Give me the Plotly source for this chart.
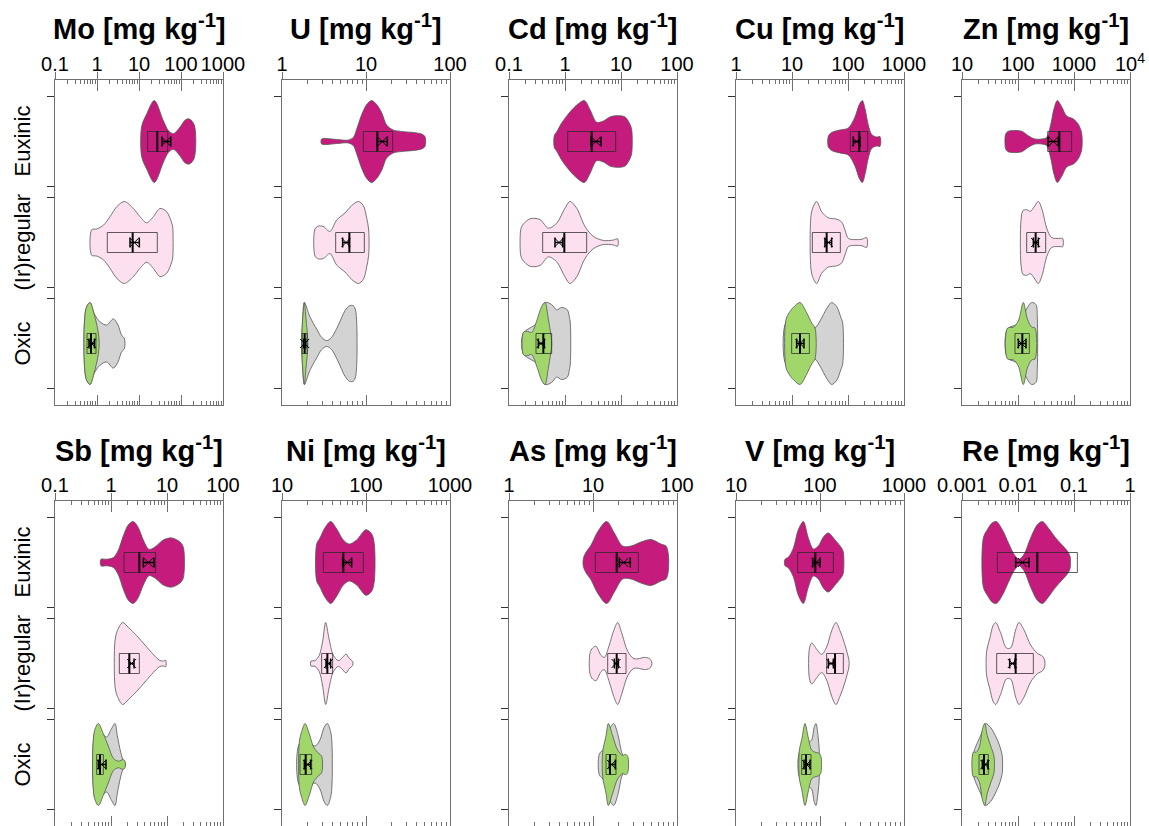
import numpy as np
import plotly.graph_objects as go

FIG_W, FIG_H = 1149, 826
FONT = "Liberation Sans, Arial, sans-serif"

CATEGORIES = ["Euxinic", "(Ir)regular", "Oxic"]
COL_EUX = "#c51b7d"
COL_IRR = "#fde0ef"
COL_OXG = "#a1d76a"
COL_OXA = "#d3d3d3"
OUTLINE = "#555555"
FRAME = "#707070"

# ---------------------------------------------------------------------------
# Violin outlines: log10 concentration (mg/kg) and relative half-width (0-1).
# Stats: box = (Q1, median, Q3), mean = (mean, lower SE, upper SE), all log10.
# ---------------------------------------------------------------------------

# Mo
mo_eux = ([1.064, 1.183, 1.365, 1.579, 1.698, 1.817, 1.976, 2.095, 2.198, 2.317],
          [0.37, 0.67, 1.0, 0.51, 0.27, 0.19, 0.35, 0.52, 0.55, 0.40])
mo_irr = ([-0.127, -0.008, 0.151, 0.310, 0.468, 0.651, 0.865, 1.024, 1.183, 1.341, 1.5, 1.659, 1.778, 1.802],
          [0.31, 0.33, 0.42, 0.63, 0.87, 1.0, 0.83, 0.63, 0.48, 0.63, 0.83, 0.75, 0.48, 0.38])
mo_oxa = ([-0.262, -0.167, -0.064, 0.071, 0.23, 0.389, 0.50, 0.587, 0.651],
          [0.85, 1.0, 0.72, 0.53, 0.45, 0.6, 0.45, 0.2, 0.13])
mo_oxg = ([-0.262, -0.167, -0.064, 0.016, 0.048],
          [0.85, 1.0, 0.7, 0.35, 0.12])
mo_box = [(1.207, 1.436, 1.683), (0.245, 0.849, 1.436), (-0.238, -0.143, -0.024)]
mo_mean = [(1.643, 1.548, 1.755), (0.888, 0.786, 1.008), (-0.127, -0.19, -0.06)]

# U
u_eux = ([0.472, 0.651, 0.790, 0.849, 0.889, 0.948, 1.008, 1.067, 1.127, 1.187, 1.246, 1.325, 1.444, 1.563, 1.663, 1.702],
         [0.06, 0.05, 0.035, 0.1, 0.3, 0.65, 0.9, 1.0, 0.9, 0.7, 0.4, 0.28, 0.24, 0.22, 0.18, 0.12])
u_irr = ([0.393, 0.432, 0.492, 0.571, 0.651, 0.75, 0.829, 0.909, 0.968, 1.008, 1.032],
         [0.33, 0.4, 0.39, 0.27, 0.55, 0.72, 0.9, 1.0, 0.9, 0.6, 0.3])
u_oxa = ([0.234, 0.246, 0.266, 0.333, 0.413, 0.472, 0.532, 0.591, 0.671, 0.75, 0.802, 0.849, 0.877],
         [0.05, 0.6, 1.0, 0.65, 0.35, 0.15, 0.07, 0.15, 0.45, 0.8, 0.92, 0.92, 0.8])
u_oxg = ([0.234, 0.246, 0.266, 0.286, 0.306],
         [0.05, 0.6, 1.0, 0.6, 0.12])
u_box = [(0.968, 1.135, 1.317), (0.639, 0.802, 0.980), (0.240, 0.270, 0.300)]
u_mean = [(1.194, 1.135, 1.254), (0.762, 0.722, 0.802), (0.270, 0.258, 0.282)]

# Cd
cd_eux = ([-0.190, -0.149, -0.060, 0.089, 0.220, 0.345, 0.446, 0.565, 0.685, 0.804, 0.923, 1.071, 1.149, 1.190],
          [0.15, 0.23, 0.45, 0.72, 0.9, 1.0, 0.78, 0.47, 0.5, 0.6, 0.63, 0.6, 0.45, 0.3])
cd_irr = ([-0.792, -0.76, -0.625, -0.446, -0.298, -0.149, 0.0, 0.089, 0.208, 0.357, 0.506, 0.685, 0.863, 0.940],
          [0.3, 0.42, 0.58, 0.56, 0.35, 0.47, 0.84, 1.0, 0.84, 0.39, 0.15, 0.05, 0.06, 0.09])
cd_oxa = ([-0.744, -0.5, -0.357, -0.238, -0.149, -0.060, 0.042, 0.077, 0.095],
          [0.25, 0.5, 1.0, 0.95, 0.82, 0.88, 0.82, 0.65, 0.5])
cd_oxg = ([-0.744, -0.685, -0.595, -0.506, -0.417, -0.357, -0.298, -0.256, -0.238],
          [0.27, 0.3, 0.27, 0.55, 0.9, 1.0, 0.6, 0.25, 0.05])
cd_box = [(0.048, 0.476, 0.905), (-0.399, -0.012, 0.387), (-0.518, -0.387, -0.238)]
cd_mean = [(0.554, 0.464, 0.643), (-0.107, -0.179, -0.042), (-0.429, -0.476, -0.369)]

# Cu
cu_eux = ([1.649, 1.708, 1.857, 2.006, 2.125, 2.202, 2.256, 2.304, 2.363, 2.423, 2.512, 2.571],
          [0.13, 0.22, 0.28, 0.33, 0.6, 0.9, 1.0, 0.8, 0.4, 0.17, 0.11, 0.12])
cu_irr = ([1.339, 1.381, 1.440, 1.530, 1.649, 1.798, 1.887, 1.947, 2.006, 2.125, 2.25, 2.333],
          [0.65, 0.88, 1.0, 0.75, 0.6, 0.57, 0.5, 0.3, 0.1, 0.07, 0.08, 0.12])
cu_oxa = ([0.887, 1.024, 1.202, 1.321, 1.411, 1.5, 1.619, 1.708, 1.798, 1.869, 1.905],
          [0.5, 0.6, 0.55, 0.45, 0.38, 0.55, 0.85, 1.0, 0.9, 0.65, 0.5])
cu_oxg = ([0.887, 0.935, 1.024, 1.143, 1.262, 1.351, 1.411],
          [0.55, 0.72, 0.88, 1.0, 0.75, 0.5, 0.38])
cu_box = [(2.042, 2.202, 2.351), (1.363, 1.619, 1.863), (0.994, 1.143, 1.310)]
cu_mean = [(2.155, 2.095, 2.214), (1.649, 1.589, 1.708), (1.143, 1.083, 1.214)]

# Zn
zn_eux = ([1.780, 1.827, 1.946, 2.065, 2.185, 2.304, 2.423, 2.512, 2.583, 2.643, 2.702, 2.780, 2.869, 2.988, 3.077, 3.137],
          [0.18, 0.25, 0.27, 0.25, 0.14, 0.06, 0.06, 0.1, 0.4, 0.8, 1.0, 0.85, 0.62, 0.55, 0.42, 0.2])
zn_irr = ([2.054, 2.09, 2.155, 2.22, 2.28, 2.363, 2.435, 2.512, 2.601, 2.75, 2.798],
          [0.55, 0.78, 0.8, 0.76, 0.85, 1.0, 0.78, 0.35, 0.12, 0.1, 0.1])
zn_oxa = ([1.810, 2.036, 2.155, 2.244, 2.321, 2.345],
          [0.35, 0.5, 0.85, 1.0, 0.95, 0.6])
zn_oxg = ([1.810, 1.917, 2.006, 2.095, 2.167, 2.244, 2.304],
          [0.37, 0.4, 0.55, 1.0, 0.6, 0.4, 0.38])
zn_box = [(2.530, 2.738, 2.958), (2.155, 2.315, 2.494), (1.946, 2.077, 2.202)]
zn_mean = [(2.631, 2.542, 2.720), (2.315, 2.274, 2.363), (2.065, 2.006, 2.143)]

# Sb
sb_eux = ([-0.179, -0.077, 0.042, 0.131, 0.220, 0.310, 0.399, 0.488, 0.577, 0.679, 0.786, 0.935, 1.083, 1.232, 1.292],
          [0.08, 0.08, 0.12, 0.3, 0.65, 0.92, 1.0, 0.85, 0.55, 0.32, 0.38, 0.55, 0.6, 0.5, 0.37])
sb_irr = ([0.071, 0.113, 0.208, 0.310, 0.458, 0.607, 0.756, 0.863, 0.935, 0.976],
          [0.55, 0.8, 1.0, 0.88, 0.68, 0.45, 0.22, 0.08, 0.06, 0.08])
sb_oxa = ([-0.298, -0.226, -0.149, -0.077, 0.0, 0.071, 0.113, 0.173, 0.220, 0.250],
          [0.75, 0.95, 0.75, 0.67, 0.85, 1.0, 0.7, 0.3, 0.09, 0.04])
sb_oxg = ([-0.298, -0.226, -0.137, -0.048, 0.042, 0.131, 0.220, 0.250],
          [0.8, 1.0, 0.75, 0.45, 0.15, 0.08, 0.12, 0.08])
sb_box = [(0.232, 0.506, 0.798), (0.149, 0.327, 0.506), (-0.256, -0.196, -0.137)]
sb_mean = [(0.667, 0.577, 0.768), (0.369, 0.327, 0.411), (-0.167, -0.226, -0.089)]

# Ni
ni_eux = ([1.413, 1.452, 1.512, 1.579, 1.651, 1.730, 1.802, 1.889, 2.0, 2.067, 2.099],
          [0.45, 0.6, 0.85, 1.0, 0.82, 0.55, 0.45, 0.55, 0.8, 0.7, 0.45])
ni_irr = ([1.345, 1.393, 1.444, 1.484, 1.520, 1.560, 1.611, 1.671, 1.722, 1.762, 1.802, 1.841],
          [0.06, 0.07, 0.2, 0.55, 1.0, 0.6, 0.2, 0.07, 0.15, 0.23, 0.12, 0.05])
ni_oxa = ([1.206, 1.294, 1.393, 1.452, 1.500, 1.540, 1.579, 1.595],
          [0.5, 0.55, 0.45, 0.6, 0.9, 1.0, 0.8, 0.5])
ni_oxg = ([1.206, 1.234, 1.274, 1.325, 1.381, 1.433, 1.472],
          [0.55, 0.8, 1.0, 0.75, 0.4, 0.28, 0.2])
ni_box = [(1.492, 1.730, 1.968), (1.472, 1.540, 1.603), (1.214, 1.282, 1.353)]
ni_mean = [(1.778, 1.722, 1.829), (1.552, 1.524, 1.579), (1.306, 1.266, 1.341)]

# As
as_eux = ([0.885, 0.917, 0.976, 1.056, 1.163, 1.254, 1.353, 1.452, 1.571, 1.690, 1.810, 1.869, 1.897],
          [0.1, 0.25, 0.42, 0.75, 1.0, 0.72, 0.4, 0.4, 0.5, 0.56, 0.45, 0.4, 0.2])
as_irr = ([0.964, 0.996, 1.036, 1.095, 1.135, 1.194, 1.246, 1.294, 1.341, 1.413, 1.484, 1.552, 1.611, 1.671, 1.698],
          [0.25, 0.38, 0.42, 0.2, 0.15, 0.45, 0.8, 1.0, 0.75, 0.3, 0.12, 0.12, 0.15, 0.12, 0.05])
as_oxa = ([1.075, 1.135, 1.194, 1.246, 1.294, 1.341, 1.373, 1.393],
          [0.25, 0.4, 0.85, 1.0, 0.75, 0.3, 0.15, 0.05])
as_oxg = ([1.115, 1.155, 1.183, 1.234, 1.294, 1.353, 1.385, 1.413],
          [0.3, 0.7, 1.0, 0.7, 0.35, 0.22, 0.25, 0.2])
as_box = [(1.028, 1.282, 1.540), (1.175, 1.282, 1.393), (1.155, 1.202, 1.274)]
as_mean = [(1.365, 1.313, 1.444), (1.274, 1.254, 1.302), (1.222, 1.194, 1.266)]

# V
v_eux = ([1.583, 1.623, 1.683, 1.742, 1.802, 1.861, 1.921, 1.980, 2.040, 2.099, 2.179, 2.258, 2.278],
         [0.08, 0.13, 0.35, 0.8, 1.0, 0.6, 0.33, 0.4, 0.62, 0.72, 0.55, 0.35, 0.25])
v_irr = ([1.873, 1.901, 1.960, 2.020, 2.079, 2.139, 2.190, 2.238, 2.298, 2.325, 2.345],
         [0.35, 0.5, 0.35, 0.22, 0.4, 0.8, 1.0, 0.8, 0.45, 0.25, 0.08])
v_oxa = ([1.754, 1.841, 1.901, 1.929, 1.952, 1.976, 1.992],
         [0.3, 0.5, 0.6, 0.9, 1.0, 0.7, 0.3])
v_oxg = ([1.754, 1.782, 1.821, 1.861, 1.901, 1.940, 1.980, 2.008],
         [0.35, 0.6, 1.0, 0.65, 0.35, 0.3, 0.28, 0.22])
v_box = [(1.734, 1.944, 2.159), (2.079, 2.179, 2.278), (1.782, 1.833, 1.893)]
v_mean = [(1.952, 1.913, 2.0), (2.131, 2.099, 2.159), (1.841, 1.810, 1.881)]

# Re
re_eux = ([-2.619, -2.548, -2.458, -2.387, -2.280, -2.161, -2.071, -1.982, -1.893, -1.774, -1.655, -1.565, -1.446, -1.327, -1.208, -1.119, -1.071],
          [0.6, 0.8, 0.97, 1.0, 0.8, 0.45, 0.2, 0.08, 0.2, 0.6, 0.92, 1.0, 0.82, 0.6, 0.42, 0.28, 0.15])
re_irr = ([-2.560, -2.506, -2.446, -2.399, -2.310, -2.208, -2.131, -2.042, -1.982, -1.893, -1.774, -1.655, -1.565, -1.524],
          [0.3, 0.6, 0.92, 1.0, 0.75, 0.38, 0.38, 0.82, 1.0, 0.82, 0.45, 0.25, 0.18, 0.08])
re_oxa = ([-2.798, -2.637, -2.577, -2.488, -2.411, -2.339, -2.304, -2.280],
          [0.25, 0.8, 1.0, 0.9, 0.72, 0.5, 0.35, 0.2])
re_oxg = ([-2.798, -2.744, -2.685, -2.637, -2.595, -2.548, -2.488, -2.429],
          [0.3, 0.3, 0.45, 0.85, 1.0, 0.7, 0.45, 0.2])
re_box = [(-2.369, -1.655, -0.940), (-2.381, -2.042, -1.726), (-2.696, -2.607, -2.530)]
re_mean = [(-1.923, -2.042, -1.804), (-2.101, -2.149, -2.054), (-2.589, -2.637, -2.536)]

# Axis ranges (log10 decades) and tick labels
PANELS = [
    dict(name="Mo", rng=(-1, 3), labels=["0.1", "1", "10", "100", "1000"],
         v=(mo_eux, mo_irr, mo_oxa, mo_oxg), box=mo_box, mean=mo_mean),
    dict(name="U", rng=(0, 2), labels=["1", "10", "100"],
         v=(u_eux, u_irr, u_oxa, u_oxg), box=u_box, mean=u_mean),
    dict(name="Cd", rng=(-1, 2), labels=["0.1", "1", "10", "100"],
         v=(cd_eux, cd_irr, cd_oxa, cd_oxg), box=cd_box, mean=cd_mean),
    dict(name="Cu", rng=(0, 3), labels=["1", "10", "100", "1000"],
         v=(cu_eux, cu_irr, cu_oxa, cu_oxg), box=cu_box, mean=cu_mean),
    dict(name="Zn", rng=(1, 4), labels=["10", "100", "1000", "10<sup>4</sup>"],
         v=(zn_eux, zn_irr, zn_oxa, zn_oxg), box=zn_box, mean=zn_mean),
    dict(name="Sb", rng=(-1, 2), labels=["0.1", "1", "10", "100"],
         v=(sb_eux, sb_irr, sb_oxa, sb_oxg), box=sb_box, mean=sb_mean),
    dict(name="Ni", rng=(1, 3), labels=["10", "100", "1000"],
         v=(ni_eux, ni_irr, ni_oxa, ni_oxg), box=ni_box, mean=ni_mean),
    dict(name="As", rng=(0, 2), labels=["1", "10", "100"],
         v=(as_eux, as_irr, as_oxa, as_oxg), box=as_box, mean=as_mean),
    dict(name="V", rng=(1, 3), labels=["10", "100", "1000"],
         v=(v_eux, v_irr, v_oxa, v_oxg), box=v_box, mean=v_mean),
    dict(name="Re", rng=(-3, 0), labels=["0.001", "0.01", "0.1", "1"],
         v=(re_eux, re_irr, re_oxa, re_oxg), box=re_box, mean=re_mean),
]

# Panel placement in pixels
COL_LEFT = [55, 282, 509, 736, 962]
PANEL_W = 168
ROW_TOP = [80, 501]
PANEL_H = 325
TITLE_Y = [27, 449]

# Category layout along the y axis (Euxinic on top)
Y_RANGE = [2.609, -0.609]
SEG_HALF = 0.4455
VIOLIN_HALF = 0.406
BOX_HALF = 0.099

fig = go.Figure()
layout = dict(
    width=FIG_W, height=FIG_H, margin=dict(l=0, r=0, t=0, b=0, autoexpand=False),
    paper_bgcolor="white", plot_bgcolor="white", showlegend=False,
    font=dict(family=FONT, color="black"),
)
annotations = []


def add_violin(xs, ws, yc, color, xref, yref):
    xv = np.power(10.0, np.asarray(xs, dtype=float))
    hw = np.asarray(ws, dtype=float) * VIOLIN_HALF
    px = list(xv) + list(xv[::-1]) + [xv[0]]
    py = list(yc - hw) + list((yc + hw)[::-1]) + [yc - hw[0]]
    fig.add_trace(go.Scatter(
        x=px, y=py, mode="lines", fill="toself", fillcolor=color,
        line=dict(color=OUTLINE, width=0.8, shape="spline", smoothing=0.9),
        xaxis=xref, yaxis=yref, hoverinfo="skip"))


def add_stats(box, mean, yc, xref, yref):
    q1, med, q3 = [10 ** v for v in box]
    fig.add_trace(go.Scatter(
        x=[q1, q3, q3, q1, q1],
        y=[yc - BOX_HALF, yc - BOX_HALF, yc + BOX_HALF, yc + BOX_HALF, yc - BOX_HALF],
        mode="lines", line=dict(color="rgba(40,40,40,0.75)", width=1),
        xaxis=xref, yaxis=yref, hoverinfo="skip"))
    fig.add_trace(go.Scatter(
        x=[med, med], y=[yc - BOX_HALF, yc + BOX_HALF], mode="lines",
        line=dict(color="black", width=2), xaxis=xref, yaxis=yref, hoverinfo="skip"))
    m, lo, hi = [10 ** v for v in mean]
    fig.add_trace(go.Scatter(
        x=[m], y=[yc], mode="markers",
        marker=dict(symbol="x-thin", size=9, line=dict(color="black", width=1)),
        error_x=dict(type="data", symmetric=False, array=[hi - m], arrayminus=[m - lo],
                     color="black", thickness=1.5, width=5),
        xaxis=xref, yaxis=yref, hoverinfo="skip"))


for i, p in enumerate(PANELS):
    row, col = divmod(i, 5)
    n = i + 1
    sfx = "" if n == 1 else str(n)
    xref, yref = "x" + sfx, "y" + sfx
    top_in, top_out = n + 10, n + 20

    left = COL_LEFT[col]
    top = ROW_TOP[row]
    xdom = [left / FIG_W, (left + PANEL_W) / FIG_W]
    ydom = [1 - (top + PANEL_H) / FIG_H, 1 - top / FIG_H]

    lo, hi = p["rng"]
    majors = [10.0 ** k for k in range(lo, hi + 1)]
    minors = [d * 10.0 ** k for k in range(lo, hi) for d in range(2, 10)]

    base = dict(
        type="log", range=[lo, hi], anchor=yref, tickmode="array", tickvals=majors,
        tickwidth=1, tickcolor=FRAME, showgrid=False, zeroline=False, automargin=False,
    )
    minor_in = dict(tickmode="array", tickvals=minors, ticks="inside", ticklen=4,
                    tickwidth=1, tickcolor=FRAME, showgrid=False)
    # bottom: frame line with inside decade and minor ticks
    layout["xaxis" + sfx] = dict(
        base, domain=xdom, side="bottom", minor=minor_in,
        showline=True, linecolor=FRAME, linewidth=1.2, mirror=True,
        ticks="inside", ticklen=10, showticklabels=False,
    )
    # top: inside decade and minor ticks with the decade labels
    layout["xaxis%d" % top_in] = dict(
        base, overlaying=xref, side="top", domain=xdom, minor=minor_in,
        showline=False, ticks="inside", ticklen=11,
        ticktext=p["labels"], tickangle=0, showticklabels=True, ticklabelstandoff=4,
        tickfont=dict(size=20, family=FONT, color="black"),
    )
    # top: short outside stubs at the decades
    layout["xaxis%d" % top_out] = dict(
        base, overlaying=xref, side="top", domain=xdom,
        showline=False, ticks="outside", ticklen=7, showticklabels=False,
    )
    seg_ticks = [c + s * SEG_HALF for c in range(3) for s in (-1, 1)]
    layout["yaxis" + sfx] = dict(
        domain=ydom, anchor=xref, range=Y_RANGE, automargin=False,
        showline=True, linecolor=FRAME, linewidth=1.2, mirror=True,
        ticks="outside", ticklen=7, tickwidth=1, tickcolor="#333333",
        tickmode="array", tickvals=seg_ticks, showticklabels=False,
        showgrid=False, zeroline=False,
    )

    eux, irr, oxa, oxg = p["v"]
    add_violin(*eux, 0, COL_EUX, xref, yref)
    add_violin(*irr, 1, COL_IRR, xref, yref)
    add_violin(*oxa, 2, COL_OXA, xref, yref)
    add_violin(*oxg, 2, COL_OXG, xref, yref)
    for c in range(3):
        add_stats(p["box"][c], p["mean"][c], c, xref, yref)

    # invisible points register the top axes on this subplot
    for tid in (top_in, top_out):
        fig.add_trace(go.Scatter(
            x=[majors[0]], y=[1], mode="markers", marker=dict(opacity=0),
            xaxis="x%d" % tid, yaxis=yref, hoverinfo="skip"))

    annotations.append(dict(
        text="<b>%s [mg kg<sup>-1</sup>]</b>" % p["name"],
        x=(left + PANEL_W / 2) / FIG_W, y=1 - TITLE_Y[row] / FIG_H,
        xref="paper", yref="paper", xanchor="center", yanchor="middle",
        showarrow=False, font=dict(size=29, family=FONT, color="black")))

    if col == 0:
        centers = [top + 61.5 + 101 * c for c in range(3)]
        for cat, cy in zip(CATEGORIES, centers):
            annotations.append(dict(
                text=cat, x=22 / FIG_W, y=1 - cy / FIG_H, xref="paper", yref="paper",
                xanchor="center", yanchor="middle", textangle=-90, showarrow=False,
                font=dict(size=22, family=FONT, color="black")))

layout["annotations"] = annotations
fig.update_layout(**layout)
fig.write_html("out.html")
